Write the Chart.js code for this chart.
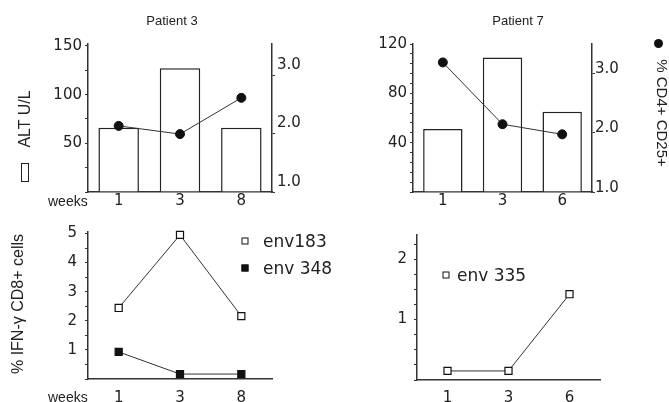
<!DOCTYPE html>
<html>
<head>
<meta charset="utf-8">
<script src="https://cdn.jsdelivr.net/npm/chart.js@4.4.1/dist/chart.umd.min.js"></script>
<style>
  html, body { margin: 0; padding: 0; background: #fff; }
  body { width: 669px; height: 402px; position: relative; overflow: hidden;
         font-family: "Liberation Sans", Arial, sans-serif; color: #222; }
  canvas { position: absolute; }
  .txt { position: absolute; white-space: nowrap; line-height: 1; transform: translate(0, -50%); }
  .mid { transform: translate(-50%, -50%); }
  .rotl { transform: translate(-50%, -50%) rotate(-90deg); }
  .rotr { transform: translate(-50%, -50%) rotate(90deg); }
  .leg { font-family: "DejaVu Sans", sans-serif; font-size: 17px; }
  .sq { position: absolute; width: 5px; height: 5px; border: 1.3px solid #111; background: #fff; transform: translate(-50%, -50%); }
</style>
</head>
<body>

<canvas id="p3top" width="335" height="210" style="left:0;top:0"></canvas>
<canvas id="p7top" width="334" height="210" style="left:335px;top:0"></canvas>
<canvas id="p3bot" width="335" height="192" style="left:0;top:210px"></canvas>
<canvas id="p7bot" width="334" height="192" style="left:335px;top:210px"></canvas>

<!-- titles and free text -->
<div class="txt mid" style="left:172px;top:20px;font-size:13px">Patient 3</div>
<div class="txt mid" style="left:518px;top:20px;font-size:13px">Patient 7</div>
<div class="txt" style="left:48px;top:201px;font-size:14px">weeks</div>
<div class="txt" style="left:48px;top:397px;font-size:14px">weeks</div>

<div class="txt rotl" style="left:25px;top:119px;font-size:16px">ALT U/L</div>
<div style="position:absolute;left:21px;top:163px;width:6px;height:17px;border:1.5px solid #222"></div>

<div style="position:absolute;left:654px;top:39px;width:9px;height:9px;border-radius:50%;background:#111"></div>
<div class="txt rotr" style="left:662px;top:113px;font-size:15px">% CD4+ CD25+</div>

<div class="txt rotl" style="left:18px;top:304px;font-size:16px">% IFN-γ CD8+ cells</div>

<!-- legends of the lower panels -->
<div class="sq" style="left:245px;top:241px"></div>
<div class="txt leg" style="left:263px;top:241px">env183</div>
<div class="sq" style="left:245px;top:268px;background:#111"></div>
<div class="txt leg" style="left:263px;top:268px">env 348</div>
<div class="sq" style="left:446px;top:275px"></div>
<div class="txt leg" style="left:457px;top:275px">env 335</div>

<script>
// weeks after start
var weeksP3 = ['1', '3', '8'];
var weeksP7 = ['1', '3', '6'];

// ALT U/L (bars) and % CD4+ CD25+ (dots)
var altP3 = [66, 127, 66];
var cd25P3 = [2.13, 1.99, 2.61];
var altP7 = [51, 109, 65];
var cd25P7 = [3.18, 2.14, 1.97];

// % IFN-g CD8+ cells
var env183 = [2.44, 4.95, 2.16];
var env348 = [0.93, 0.17, 0.17];
var env335 = [0.15, 0.15, 1.42];

var ink = '#222';
var axisCol = '#333';
var tickFont = { family: 'DejaVu Sans', size: 15 };

Chart.defaults.animation = false;
Chart.defaults.plugins.legend.display = false;
Chart.defaults.plugins.tooltip.enabled = false;
Chart.defaults.color = ink;

function xAxis(h, pad) {
    return {
        offset: true,
        grid: { display: false, drawTicks: false },
        border: { color: axisCol, width: 1.5 },
        ticks: { font: tickFont, color: ink, padding: pad },
        afterFit: function (s) { s.height = h; }
    };
}

function yAxis(pos, min, max, step, every, w, pad, shift, fmt) {
    return {
        position: pos,
        min: min,
        max: max,
        grid: { drawOnChartArea: false, tickLength: 3, color: axisCol },
        border: { color: axisCol, width: 1.5 },
        ticks: {
            stepSize: step,
            includeBounds: false,
            autoSkip: false,
            font: tickFont,
            color: ink,
            padding: pad,
            labelOffset: shift,
            callback: function (v) {
                if (fmt) return v.toFixed(1);
                return (v > 0 && Math.abs(v / every - Math.round(v / every)) < 1e-6) ? v : '';
            }
        },
        afterFit: function (s) { s.width = w; }
    };
}

function topChart(id, labels, bars, dots, yMax, yStep, yEvery, y1Max, wl, wr, padL, padR, offR) {
    return new Chart(document.getElementById(id), {
        type: 'bar',
        data: {
            labels: labels,
            datasets: [{
                type: 'line',
                data: dots,
                yAxisID: 'y1',
                order: 0,
                clip: false,
                borderColor: '#333',
                borderWidth: 1,
                pointRadius: 4.5,
                pointBackgroundColor: '#111',
                pointBorderColor: '#111'
            }, {
                type: 'bar',
                data: bars,
                yAxisID: 'y',
                order: 1,
                backgroundColor: '#fff',
                borderColor: '#222',
                borderWidth: 1.5,
                barPercentage: 0.66,
                categoryPercentage: 1
            }]
        },
        options: {
            responsive: false,
            layout: { padding: { top: 44, left: 0, right: 0, bottom: 0 } },
            scales: {
                x: xAxis(18, 0),
                y: yAxis('left', 0, yMax, yStep, yEvery, wl, padL, 0, false),
                y1: yAxis('right', 1, y1Max, 1, 1, wr, padR, offR, true)
            }
        }
    });
}

topChart('p3top', weeksP3, altP3, cd25P3, 152, 25, 50, 3.53, 88, 63, 3, 2, -10);
topChart('p7top', weeksP7, altP7, cd25P7, 120, 8, 40, 3.49, 78, 77, 3, 0, -4);

function sqSet(values, fill) {
    return {
        data: values,
        clip: false,
        borderColor: '#333',
        borderWidth: 1,
        pointStyle: 'rect',
        pointRadius: 5,
        pointBackgroundColor: fill,
        pointBorderColor: '#111',
        pointBorderWidth: 1.2
    };
}

// Patient 3, peptide responses
new Chart(document.getElementById('p3bot'), {
    type: 'line',
    data: {
        labels: weeksP3,
        datasets: [sqSet(env183, '#fff'), sqSet(env348, '#111')]
    },
    options: {
        responsive: false,
        layout: { padding: { top: 22, left: 0, right: 63, bottom: 0 } },
        scales: {
            x: xAxis(23, 10),
            y: yAxis('left', 0, 5.05, 0.5, 1, 88, 8, 0, false)
        }
    }
});

// Patient 7, peptide responses
new Chart(document.getElementById('p7bot'), {
    type: 'line',
    data: {
        labels: weeksP7,
        datasets: [sqSet(env335, '#fff')]
    },
    options: {
        responsive: false,
        layout: { padding: { top: 25, left: 0, right: 69, bottom: 0 } },
        scales: {
            x: xAxis(22, 9),
            y: yAxis('left', 0, 2.4, 0.25, 1, 82, 7, 0, false)
        }
    }
});
</script>
</body>
</html>
